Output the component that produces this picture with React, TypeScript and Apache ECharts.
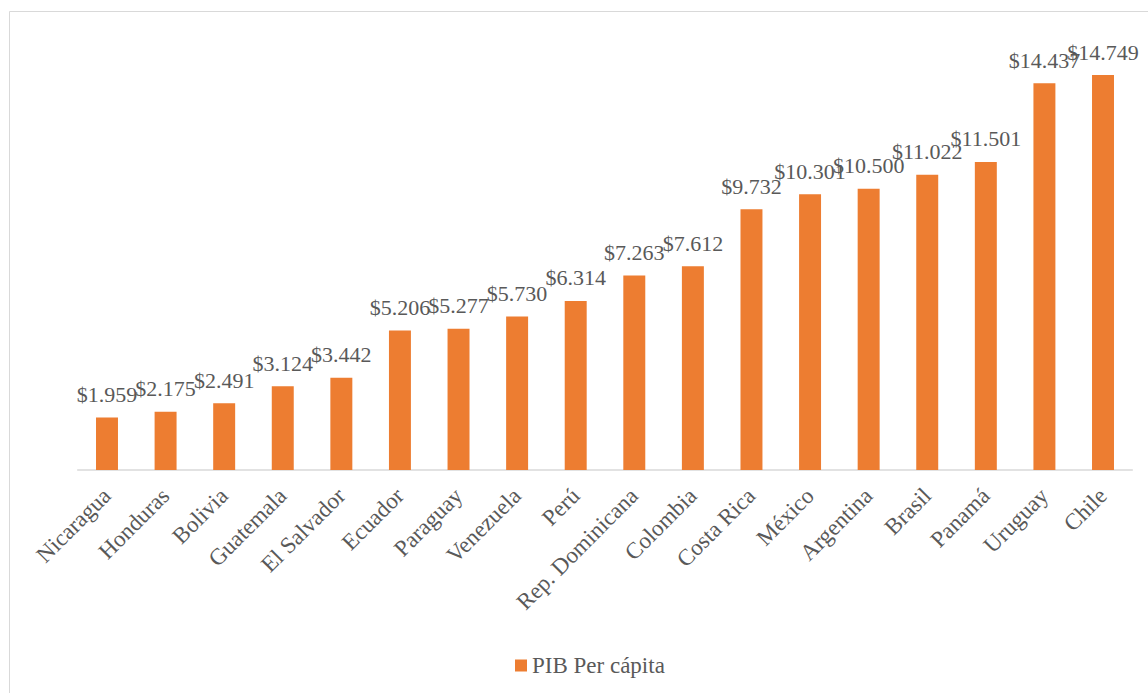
import React, { useEffect, useRef } from "react";
import * as echarts from "echarts";

const countries = [
  "Nicaragua", "Honduras", "Bolivia", "Guatemala", "El Salvador", "Ecuador",
  "Paraguay", "Venezuela", "Perú", "Rep. Dominicana", "Colombia", "Costa Rica",
  "México", "Argentina", "Brasil", "Panamá", "Uruguay", "Chile",
];
const pibPerCapita = [
  1959, 2175, 2491, 3124, 3442, 5206, 5277, 5730, 6314, 7263, 7612, 9732,
  10301, 10500, 11022, 11501, 14437, 14749,
];
const seriesName = "PIB Per cápita";

const FONT = '"Liberation Serif", "Times New Roman", serif';

function fmt(v: number): string {
  const th = Math.floor(v / 1000);
  const rest = String(v % 1000).padStart(3, "0");
  return "$" + (th > 0 ? th + "." + rest : String(v));
}

export default function App() {
  const ref = useRef<HTMLDivElement>(null);
  useEffect(() => {
    const chart = echarts.init(ref.current!, null, { renderer: "svg" });
    chart.setOption({
      animation: false,
      backgroundColor: "#ffffff",
      graphic: [
        {
          type: "rect",
          shape: { x: 9.5, y: 11.5, width: 1160, height: 700 },
          style: { fill: "none", stroke: "#d9d9d9", lineWidth: 1 },
          silent: true,
        },
      ],
      grid: { left: 77.7, right: 15.7, top: 41.5, bottom: 223, containLabel: false },
      legend: {
        left: 510,
        top: 649,
        itemWidth: 12,
        itemHeight: 12,
        itemGap: 6,
        icon: "rect",
        textStyle: { fontFamily: FONT, fontSize: 23, color: "#595959" },
        data: [seriesName],
      },
      xAxis: {
        type: "category",
        data: countries,
        axisLine: { lineStyle: { color: "#d9d9d9", width: 1.5 } },
        axisTick: { show: false },
        axisLabel: {
          rotate: 45,
          interval: 0,
          margin: 22,
          fontFamily: FONT,
          fontSize: 23,
          color: "#595959",
        },
      },
      yAxis: {
        type: "value",
        min: 0,
        max: 16000,
        show: false,
        splitLine: { show: false },
      },
      series: [
        {
          name: seriesName,
          type: "bar",
          data: pibPerCapita,
          barWidth: "37.5%",
          itemStyle: { color: "#ED7D31" },
          label: {
            show: true,
            position: "top",
            distance: 12,
            fontFamily: FONT,
            fontSize: 22,
            color: "#595959",
            formatter: (p: any) => fmt(p.value),
          },
        },
      ],
    });
    return () => chart.dispose();
  }, []);
  return (
    <div
      ref={ref}
      style={{ position: "fixed", left: 0, top: 0, width: 1148, height: 693 }}
    />
  );
}
